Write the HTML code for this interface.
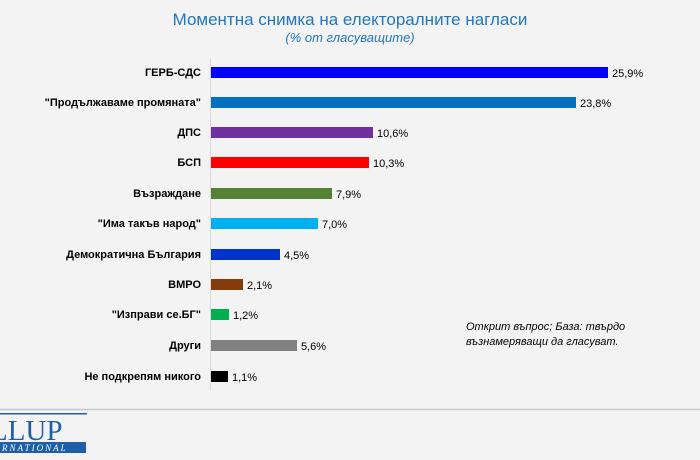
<!DOCTYPE html>
<html><head><meta charset="utf-8"><style>
html,body{margin:0;padding:0;background:#f3f3f3;}
svg{display:block;font-family:"Liberation Sans",sans-serif;}
</style></head><body>
<svg width="700" height="460" viewBox="0 0 700 460" xmlns="http://www.w3.org/2000/svg">
<rect width="700" height="460" fill="#f3f3f3"/>
<text x="350" y="25" text-anchor="middle" font-size="17" fill="#1f77bf">Моментна снимка на електоралните нагласи</text>
<text x="350" y="42" text-anchor="middle" font-size="13" font-style="italic" fill="#1f77bf">(% от гласуващите)</text>
<line x1="210.5" y1="58" x2="210.5" y2="391" stroke="#d9d9d9" stroke-width="1"/>
<g font-size="11" font-weight="bold" text-anchor="end" fill="#000">
<text x="201" y="76">ГЕРБ-СДС</text>
<text x="201" y="106">"Продължаваме промяната"</text>
<text x="201" y="136">ДПС</text>
<text x="201" y="166">БСП</text>
<text x="201" y="197">Възраждане</text>
<text x="201" y="227">"Има такъв народ"</text>
<text x="201" y="258">Демократична България</text>
<text x="201" y="288">ВМРО</text>
<text x="201" y="318">"Изправи се.БГ"</text>
<text x="201" y="349">Други</text>
<text x="201" y="380">Не подкрепям никого</text>
</g>
<g>
<rect x="211" y="67" width="397" height="11" fill="#0000ff"/>
<rect x="211" y="97" width="365" height="11" fill="#0070c0"/>
<rect x="211" y="127" width="162" height="11" fill="#7030a0"/>
<rect x="211" y="157" width="158" height="11" fill="#ff0000"/>
<rect x="211" y="188" width="121" height="11" fill="#548235"/>
<rect x="211" y="218" width="107" height="11" fill="#00b0f0"/>
<rect x="211" y="249" width="69" height="11" fill="#0033cc"/>
<rect x="211" y="279" width="32" height="11" fill="#843c0c"/>
<rect x="211" y="309" width="18" height="11" fill="#00b050"/>
<rect x="211" y="340" width="86" height="11" fill="#808080"/>
<rect x="211" y="371" width="17" height="11" fill="#000000"/>
</g>
<g font-size="11" fill="#000">
<text x="612" y="77">25,9%</text>
<text x="580" y="107">23,8%</text>
<text x="377" y="137">10,6%</text>
<text x="373" y="167">10,3%</text>
<text x="336" y="198">7,9%</text>
<text x="322" y="228">7,0%</text>
<text x="284" y="259">4,5%</text>
<text x="247" y="289">2,1%</text>
<text x="233" y="319">1,2%</text>
<text x="301" y="350">5,6%</text>
<text x="232" y="381">1,1%</text>
</g>
<g font-size="11" font-style="italic" fill="#000">
<text x="466" y="330">Открит въпрос; База: твърдо</text>
<text x="466" y="345">възнамеряващи да гласуват.</text>
</g>
<line x1="0" y1="409.5" x2="700" y2="409.5" stroke="#c8c8c8" stroke-width="1.5"/>
<rect x="0" y="413" width="87" height="1.5" fill="#1f5fa8"/>
<text x="-10" y="440" font-family="Liberation Serif,serif" font-size="29" fill="#1f5fa8">LLUP</text>
<rect x="0" y="442" width="86" height="11" fill="#1f5fa8"/>
<text x="2" y="451" font-family="Liberation Serif,serif" font-size="9" font-style="italic" fill="#fff" letter-spacing="2">RNATIONAL</text>
</svg>
</body></html>
